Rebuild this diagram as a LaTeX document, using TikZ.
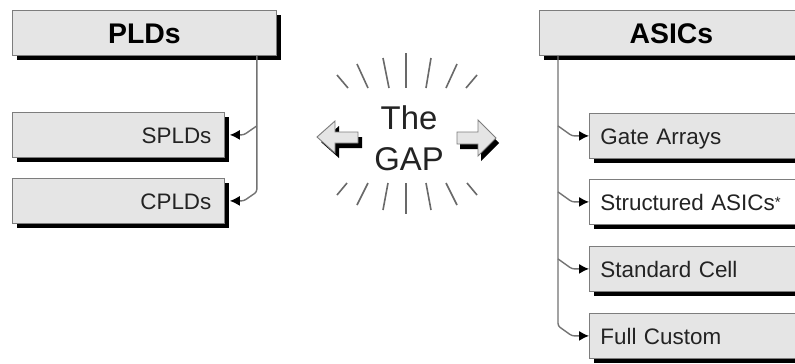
\documentclass[tikz,border=0pt]{standalone}
\usepackage{fontspec}
\setmainfont{Liberation Sans}
\usetikzlibrary{shadows,calc,arrows.meta}
\definecolor{boxfill}{RGB}{229,229,229}
\definecolor{boxline}{RGB}{125,125,125}
\definecolor{linegray}{RGB}{115,115,115}
\definecolor{raygray}{RGB}{105,105,105}
\definecolor{txt}{RGB}{35,35,35}
\begin{document}
\begin{tikzpicture}[x=1bp,y=-1bp,
  box/.style={draw=boxline, line width=0.8bp, fill=boxfill, rectangle, anchor=north west,
    minimum height=45bp, inner ysep=0pt,
    drop shadow={shadow xshift=5bp, shadow yshift=-5bp, fill=black, opacity=1},
    text=txt, font=\fontsize{22.5}{27}\selectfont, text height=20bp, text depth=3bp},
  leftbox/.style={box, minimum width=212bp, text width=186bp, inner xsep=13bp, align=right},
  rightbox/.style={box, minimum width=216bp, text width=194bp, inner xsep=11bp, align=left},
  titlebox/.style={box, minimum width=264bp, font=\fontsize{28.5}{34}\bfseries\selectfont,
    text=black, text height=22bp, text depth=1bp},
  conn/.style={draw=linegray, line width=1.4bp, rounded corners=2.5bp},
  tipped/.style={-{Latex[length=10bp,width=10bp,black]}},
  ray/.style={draw=raygray, line width=1.6bp},
  blockarrow/.style={draw=boxline, line width=0.9bp, fill=boxfill, line join=miter},
  blockshadow/.style={fill=black}
]
\useasboundingbox (0,0) rectangle (795,363);
\clip (0,0) rectangle (795,363);
\fill[white] (0,0) rectangle (795,363);

% left column
\node[titlebox] (PLDs) at (12,10) {PLDs};
\node[leftbox] (SPLDs) at (12,112) {SPLDs};
\node[leftbox] (CPLDs) at (12,178) {CPLDs};

% right column
\node[titlebox] (ASICs) at (539,10) {ASICs};
\node[rightbox] (GA) at (589,113) {Gate Arrays};
\node[rightbox, fill=white] (SA) at (589,179) {Structured ASICs\raisebox{3bp}{\fontsize{15}{15}\selectfont *}};
\node[rightbox] (SC) at (589,246) {Standard Cell};
\node[rightbox] (FC) at (589,313) {Full Custom};

% left connectors
\coordinate (lt) at ([xshift=-20bp]PLDs.south east);
\draw[conn,tipped] (lt) -- ($(CPLDs.east -| lt)+(0,-9)$) -- ($(CPLDs.east)+(19,0)$) -- ($(CPLDs.east)+(5,0)$);
\draw[conn,tipped] ($(SPLDs.east -| lt)+(0,-9)$) -- ($(SPLDs.east)+(19,0)$) -- ($(SPLDs.east)+(5,0)$);

% right connectors
\coordinate (rt) at ([xshift=19bp]ASICs.south west);
\draw[conn,tipped] (rt) -- ($(FC.west -| rt)+(0,-10)$) -- ($(FC.west)+(-17,0)$) -- (FC.west);
\draw[conn,tipped] ($(GA.west -| rt)+(0,-10)$) -- ($(GA.west)+(-17,0)$) -- (GA.west);
\draw[conn,tipped] ($(SA.west -| rt)+(0,-10)$) -- ($(SA.west)+(-17,0)$) -- (SA.west);
\draw[conn,tipped] ($(SC.west -| rt)+(0,-10)$) -- ($(SC.west)+(-17,0)$) -- (SC.west);

% rays
\draw[ray] (337,75) -- (348,88);
\draw[ray] (357,64) -- (368,88);
\draw[ray] (383,58) -- (389,88);
\draw[ray] (406,53) -- (406,88);
\draw[ray] (431,58) -- (426,88);
\draw[ray] (457,64) -- (446,88);
\draw[ray] (477,75) -- (466,88);
\draw[ray] (337,195) -- (347,183);
\draw[ray] (357,205) -- (368,183);
\draw[ray] (383,210) -- (388,183);
\draw[ray] (406,183) -- (406,214);
\draw[ray] (431,210) -- (426,183);
\draw[ray] (457,205) -- (446,183);
\draw[ray] (477,195) -- (467,183);

% The GAP
\node[font=\fontsize{33}{41}\selectfont, align=center, text=txt] (gap) at (409,138) {The\\GAP};

% block arrows
\begin{scope}[shift={(4,5)}]
\fill[blockshadow] (317,137) -- (335,121) -- (335,132) -- (358,132) -- (358,143) -- (335,143) -- (335,153) -- cycle;
\end{scope}
\draw[blockarrow] (317,137) -- (335,121) -- (335,132) -- (358,132) -- (358,143) -- (335,143) -- (335,153) -- cycle;
\begin{scope}[shift={(3,5)}]
\fill[blockshadow] (457,132) -- (478,132) -- (478,120) -- (496,138) -- (478,156) -- (478,144) -- (457,144) -- cycle;
\end{scope}
\draw[blockarrow] (457,132) -- (478,132) -- (478,120) -- (496,138) -- (478,156) -- (478,144) -- (457,144) -- cycle;
\end{tikzpicture}
\end{document}
